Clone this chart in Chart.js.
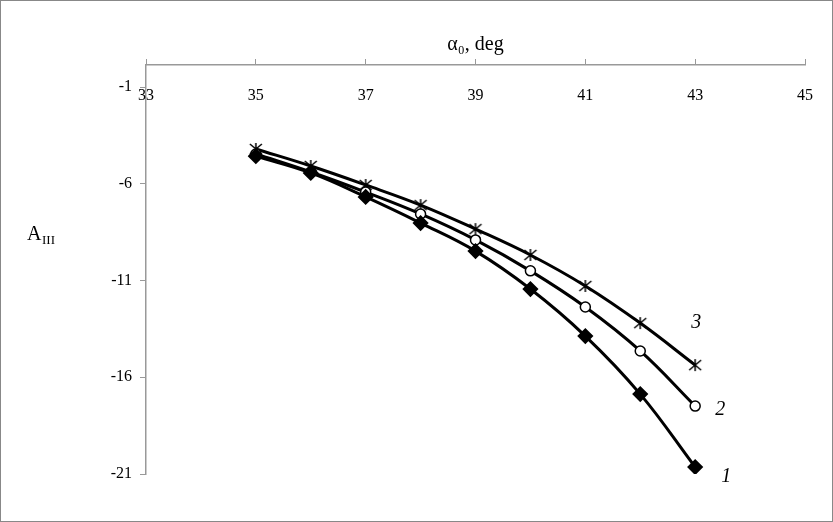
<!DOCTYPE html>
<html><head><meta charset="utf-8">
<script src="https://cdn.jsdelivr.net/npm/chart.js@4/dist/chart.umd.min.js"></script>
<style>html,body{margin:0;padding:0;background:#fff}#wrap{width:833px;height:522px;position:relative;box-sizing:border-box;border:1px solid #888}</style>
</head><body><div id="wrap"><canvas id="c"></canvas></div>
<script>
const angles = [35, 36, 37, 38, 39, 40, 41, 42, 43];
const series1 = [-4.57, -5.44, -6.68, -8.03, -9.48, -11.44, -13.87, -16.87, -20.64];
const series2 = [-4.46, -5.39, -6.43, -7.56, -8.9, -10.5, -12.37, -14.64, -17.49];
const series3 = [-4.2, -5.08, -6.06, -7.1, -8.34, -9.68, -11.28, -13.2, -15.37];
const xTicks = [33, 35, 37, 39, 41, 43, 45];
const yTicks = [-1, -6, -11, -16, -21];
const curveLabels = ['1', '2', '3'];

const font = 'Liberation Serif';
function pts(ys) { return angles.map((x, i) => ({x: x, y: ys[i]})); }

// asterisk marker
const star = document.createElement('canvas');
star.width = star.height = 16;
(function () {
    const g = star.getContext('2d');
    g.strokeStyle = '#000'; g.lineWidth = 1.5;
    g.beginPath();
    g.moveTo(2, 3); g.lineTo(14, 13); g.moveTo(14, 3); g.lineTo(2, 13); g.moveTo(8, 2); g.lineTo(8, 14);
    g.stroke();
})();

const extras = {
    id: 'extras',
    afterDraw(chart) {
        const ctx = chart.ctx, xs = chart.scales.x, ys = chart.scales.y;
        ctx.save();
        ctx.fillStyle = '#000';
        ctx.font = '16px "' + font + '"';
        ctx.textAlign = 'center'; ctx.textBaseline = 'middle';
        xTicks.forEach(t => ctx.fillText(String(t), xs.getPixelForValue(t), ys.getPixelForValue(-1) + 9));
        ctx.font = 'italic 20px "' + font + '"';
        ctx.textAlign = 'left';
        const ends = [series1[8], series2[8], series3[8]];
        const off = [[26, 10], [20, 4], [-4, -42]];
        ends.forEach((v, i) => ctx.fillText(curveLabels[i], xs.getPixelForValue(43) + off[i][0], ys.getPixelForValue(v) + off[i][1]));
        ctx.font = '20px "' + font + '"';
        ctx.fillText('A', 26, 234);
        ctx.font = '13px "' + font + '"';
        ctx.fillText('III', 41, 240);
        ctx.restore();
    }
};

const line = {borderColor: '#000', backgroundColor: '#000', borderWidth: 3, tension: 0.4, pointBorderColor: '#000'};
new Chart(document.getElementById('c'), {
    type: 'line',
    data: {
        datasets: [
            Object.assign({data: pts(series1), pointStyle: 'rectRot', pointRadius: 6, pointBackgroundColor: '#000'}, line),
            Object.assign({data: pts(series2), pointStyle: 'circle', pointRadius: 5, pointBackgroundColor: '#fff', pointBorderWidth: 1.5}, line),
            Object.assign({data: pts(series3), pointStyle: star, pointRadius: 8}, line)
        ]
    },
    options: {
        responsive: true,
        maintainAspectRatio: false,
        animation: false,
        layout: {padding: {left: 0, right: 27, top: 0, bottom: 47}},
        plugins: {legend: {display: false}, tooltip: {enabled: false}},
        scales: {
            x: {
                type: 'linear', position: 'top', min: 33, max: 45,
                afterBuildTicks: s => { s.ticks = xTicks.map(v => ({value: v})); },
                afterFit: s => { s.height = 64; },
                grid: {display: true, drawOnChartArea: false, drawTicks: true, tickLength: 6, color: '#999'},
                border: {color: '#999', width: 1.5},
                ticks: {display: false},
                title: {display: true, text: 'α₀, deg', color: '#000', font: {family: font, size: 20}, padding: {top: 32, bottom: 0}}
            },
            y: {
                min: -21, max: 0.14,
                afterBuildTicks: s => { s.ticks = yTicks.map(v => ({value: v})); },
                afterFit: s => { s.width = 145; },
                grid: {display: true, drawOnChartArea: false, drawTicks: true, tickLength: 6, color: '#999'},
                border: {color: '#999', width: 1.5},
                ticks: {color: '#000', font: {family: font, size: 16}, padding: 8}
            }
        }
    },
    plugins: [extras]
});
</script></body></html>
